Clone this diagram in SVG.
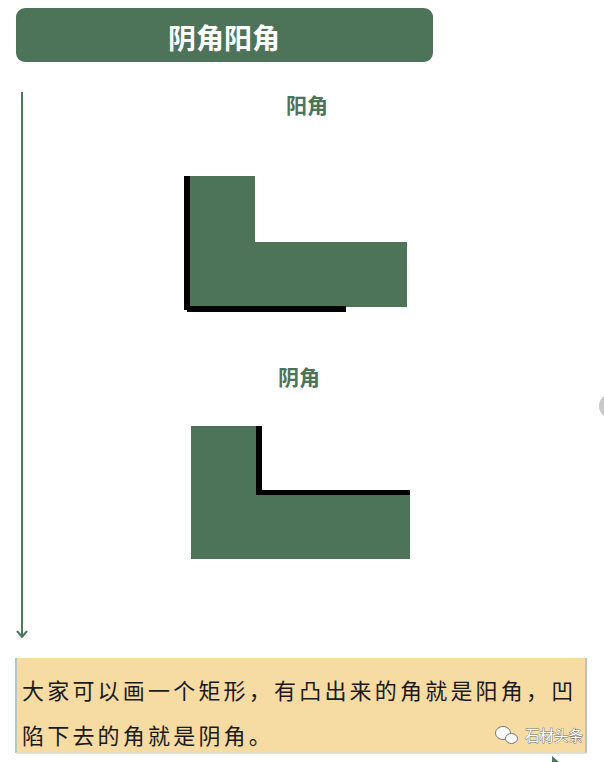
<svg xmlns="http://www.w3.org/2000/svg" width="604" height="762" viewBox="0 0 604 762">
<style>
.g{fill:#4d7459}
.k{fill:#000}
.lbl{font-family:"Noto Sans CJK SC","Noto Sans",sans-serif;font-weight:bold;font-size:21px;fill:#4d7459;text-anchor:middle}
.body{font-family:"Noto Sans CJK SC","Noto Sans",sans-serif;font-size:22px;fill:#1a1a1a;letter-spacing:3.2px}
.wm{font-family:"Noto Sans CJK SC","Noto Sans",sans-serif;font-size:14.5px;fill:#fff;stroke:#777;stroke-width:0.9px;paint-order:stroke fill}
</style>
<defs>
<marker id="arr" viewBox="0 0 10 12" refX="8" refY="6" markerWidth="10" markerHeight="12" markerUnits="userSpaceOnUse" orient="auto">
<path d="M2,1 L8,6 L2,11" fill="none" stroke="#4d7a5e" stroke-width="2"/>
</marker>
</defs>
<rect width="604" height="762" fill="#fff"/>
<g id="title">
<rect x="16" y="8" width="417" height="54" rx="9" class="g"/>
<text x="224" y="48.5" font-family="Noto Sans CJK SC, Noto Sans, sans-serif" font-size="28" font-weight="bold" fill="#fff" text-anchor="middle">阴角阳角</text>
</g>
<g id="connectors">
<line x1="22" y1="92" x2="22" y2="637" stroke="#4d7a5e" stroke-width="2" marker-end="url(#arr)"/>
</g>
<g id="yang">
<text class="lbl" x="307" y="113">阳角</text>
<polygon class="g" points="190,176 255,176 255,242 407,242 407,307 190,307"/>
<rect class="k" x="184" y="176" width="6" height="134"/>
<rect class="k" x="187" y="306" width="159" height="6"/>
</g>
<g id="yin">
<text class="lbl" x="299" y="385">阴角</text>
<polygon class="g" points="191,426 256,426 256,490 410,490 410,559 191,559"/>
<rect class="k" x="256" y="426" width="6" height="69"/>
<rect class="k" x="256" y="490" width="154" height="5"/>
</g>
<g id="note">
<rect x="16" y="658" width="570" height="95" fill="#f6dca2"/>
<line x1="16" y1="658" x2="16" y2="753" stroke="#b8c7bf" stroke-width="2"/>
<line x1="586" y1="658" x2="586" y2="753" stroke="#b8c7bf" stroke-width="2"/>
<line x1="16" y1="753" x2="587" y2="753" stroke="#d3dcd5" stroke-width="1.5"/>
<text class="body" x="22" y="699">大家可以画一个矩形，有凸出来的角就是阳角，凹</text>
<text class="body" x="22" y="744">陷下去的角就是阴角。</text>
</g>
<g id="watermark">
<ellipse cx="503" cy="733" rx="7.5" ry="6.5" fill="#fff" stroke="#777" stroke-width="1"/>
<ellipse cx="511.5" cy="738.5" rx="6" ry="5" fill="#fff" stroke="#777" stroke-width="1"/>
<text class="wm" x="525" y="741">石材头条</text>
</g>
<ellipse cx="613" cy="406" rx="14" ry="13" fill="#c9c9c9"/>
<polygon points="552,756 559,762 552,762" fill="#4d7a5e"/>
</svg>
